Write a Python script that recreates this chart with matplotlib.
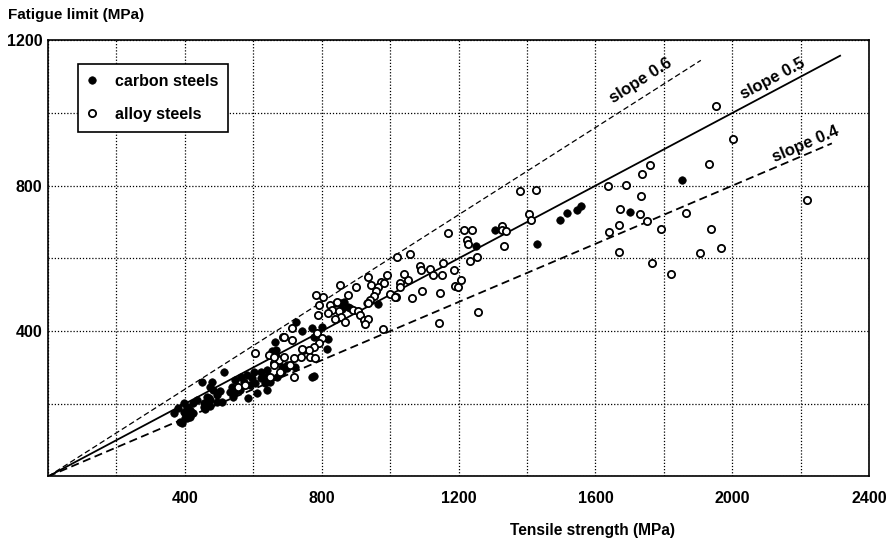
import matplotlib
matplotlib.use("Agg")
import matplotlib.pyplot as plt
import numpy as np

plt.rcParams['font.family'] = ['Liberation Sans', 'DejaVu Sans']

# carbon steels: tensile strength (MPa), fatigue limit (MPa)
carbon_ts = [367, 381, 396, 406, 401, 414, 425, 391, 406, 421, 455, 460, 469, 479, 515,
             450, 472, 482, 503, 494, 464, 474, 494, 508, 455, 474, 435, 416, 425, 411,
             396, 386, 401, 416,
             538, 533, 547, 564, 572, 582, 596, 591, 606, 601, 621, 621, 638, 640, 635,
             650, 611, 583, 547, 542, 562, 640, 664, 667, 650, 684, 684, 697,
             726, 743, 772, 777, 801, 817, 814, 655, 667, 747, 723, 699, 669, 772, 777,
             855, 866, 876, 860, 884, 933, 964, 843,
             1305, 1250, 1430, 1495, 1518, 1545, 1557, 1852, 1700]
carbon_fl = [176, 188, 203, 190, 176, 169, 201, 146, 160, 174, 201, 185, 215, 261, 287,
             261, 246, 238, 236, 224, 220, 211, 206, 206, 192, 194, 211, 183, 174, 169,
             178, 151, 160, 165,
             247, 233, 266, 275, 261, 279, 270, 252, 257, 288, 288, 270, 275, 293, 257,
             261, 229, 215, 233, 220, 238, 238, 371, 348, 334, 302, 288, 298,
             426, 399, 408, 385, 411, 378, 351, 344, 332, 348, 302, 307, 275, 275, 277,
             477, 481, 467, 460, 463, 478, 475, 478,
             677, 633, 640, 705, 724, 732, 745, 816, 727]

# alloy steels
alloy_ts = [606, 645, 687, 661, 674, 554, 577, 650,
            991, 935, 852, 899, 945, 972, 964, 981, 960, 954, 942, 936, 999, 1016, 1052,
            876, 804, 791, 845, 823, 830, 817, 850, 855, 869, 840, 892, 905, 913, 923,
            935, 926, 980, 788, 713, 689, 713, 786, 801, 791, 777, 762, 767, 781, 743,
            738, 720, 708, 689, 659, 661, 718, 679, 784,
            1021, 1057, 1040, 1087, 1089, 1116, 1124, 1154, 1152, 1188, 1208, 1189, 1199,
            1028, 1030, 1013, 1065, 1094, 1147, 1169, 1216, 1238, 1226, 1228, 1232, 1253,
            1257, 1142, 1328, 1326, 1340, 1334, 1379, 1426, 1407, 1413,
            1951, 2002, 1759, 1736, 1931, 1637, 1689, 1733, 1672, 1731, 1864, 2217, 1750,
            1640, 1669, 1791, 1937, 1669, 1765, 1821, 1905, 1966]
alloy_fl = [339, 334, 385, 312, 321, 245, 252, 273,
            555, 550, 527, 521, 527, 536, 522, 532, 509, 497, 486, 477, 502, 495, 541,
            500, 495, 472, 479, 472, 458, 449, 454, 440, 426, 434, 458, 454, 445, 431,
            433, 420, 405, 445, 408, 383, 376, 394, 380, 367, 357, 348, 330, 325, 351,
            330, 325, 307, 330, 330, 307, 275, 288, 500,
            605, 612, 557, 579, 568, 571, 553, 587, 554, 569, 541, 525, 520,
            532, 521, 493, 492, 509, 506, 671, 677, 678, 651, 640, 594, 604,
            452, 422, 690, 679, 676, 635, 786, 787, 723, 706,
            1019, 929, 857, 832, 860, 800, 802, 773, 736, 723, 724, 761, 703,
            673, 691, 680, 681, 618, 586, 557, 615, 629]

# reference lines: slope and end of line (tensile strength, MPa)
slopes = [0.6, 0.5, 0.4]
line_end = [1908, 2315, 2291]
line_labels = ['slope 0.6', 'slope 0.5', 'slope 0.4']
label_pos = [(1732, 1088), (2119, 1093), (2215, 914)]

fig = plt.figure(figsize=(8.93, 5.43), dpi=100)
ax = fig.add_axes([0.0538, 0.1225, 0.9195, 0.8033])

ax.set_xlim(0, 2400)
ax.set_ylim(0, 1200)

# lines through the origin
styles = [dict(ls=(0, (4.5, 2.5)), lw=0.9),
          dict(ls='-', lw=1.3),
          dict(ls=(0, (4.5, 2.5)), lw=1.3)]
for s, xe, st in zip(slopes, line_end, styles):
    xs = np.array([0, xe])
    ax.plot(xs, s * xs, color='black', zorder=2, **st)

for s, lab, (tx, ty) in zip(slopes, line_labels, label_pos):
    ax.text(tx, ty, lab, fontsize=12, fontweight='bold', ha='center', va='center',
            rotation=np.degrees(np.arctan(s)), transform_rotates_text=True,
            rotation_mode='anchor')

ax.plot(carbon_ts, carbon_fl, 'o', color='black', ms=5.4, mew=0.5, ls='none',
        label='carbon steels', zorder=3)
ax.plot(alloy_ts, alloy_fl, 'o', mfc='white', mec='black', ms=5.2, mew=1.3, ls='none',
        label='alloy steels', zorder=3)

# grid every 200, labels every 400
ticks_x = np.arange(0, 2401, 200)
ticks_y = np.arange(0, 1201, 200)
ax.set_xticks(ticks_x)
ax.set_yticks(ticks_y)
ax.set_xticklabels([str(t) if t % 400 == 0 and t > 0 else '' for t in ticks_x])
ax.set_yticklabels([str(t) if t % 400 == 0 and t > 0 else '' for t in ticks_y])
ax.tick_params(length=0, labelsize=11.5)
ax.tick_params(axis='x', pad=10.5)
ax.tick_params(axis='y', pad=4)
for lbl in ax.get_xticklabels() + ax.get_yticklabels():
    lbl.set_fontweight('bold')
ax.grid(True, color='black', ls=(0, (1, 1.5)), lw=0.9)
ax.set_axisbelow(True)
for sp in ax.spines.values():
    sp.set_linewidth(1.2)

leg = ax.legend(loc='upper left', bbox_to_anchor=(0.0365, 0.9457), fontsize=11.5,
                frameon=True, fancybox=False, edgecolor='black', framealpha=1,
                borderpad=0.6, labelspacing=1.15, handlelength=0.5,
                handletextpad=1.2, borderaxespad=0)
leg.get_frame().set_linewidth(1.2)
for t in leg.get_texts():
    t.set_fontweight('bold')

fig.text(8 / 893, 1 - 15 / 543, 'Fatigue limit (MPa)', fontsize=11, fontweight='bold',
         ha='left', va='center')
fig.text(593 / 893, 1 - 530 / 543, 'Tensile strength (MPa)', fontsize=11.2,
         fontweight='bold', ha='center', va='center')

fig.savefig('out.png', dpi=100)
